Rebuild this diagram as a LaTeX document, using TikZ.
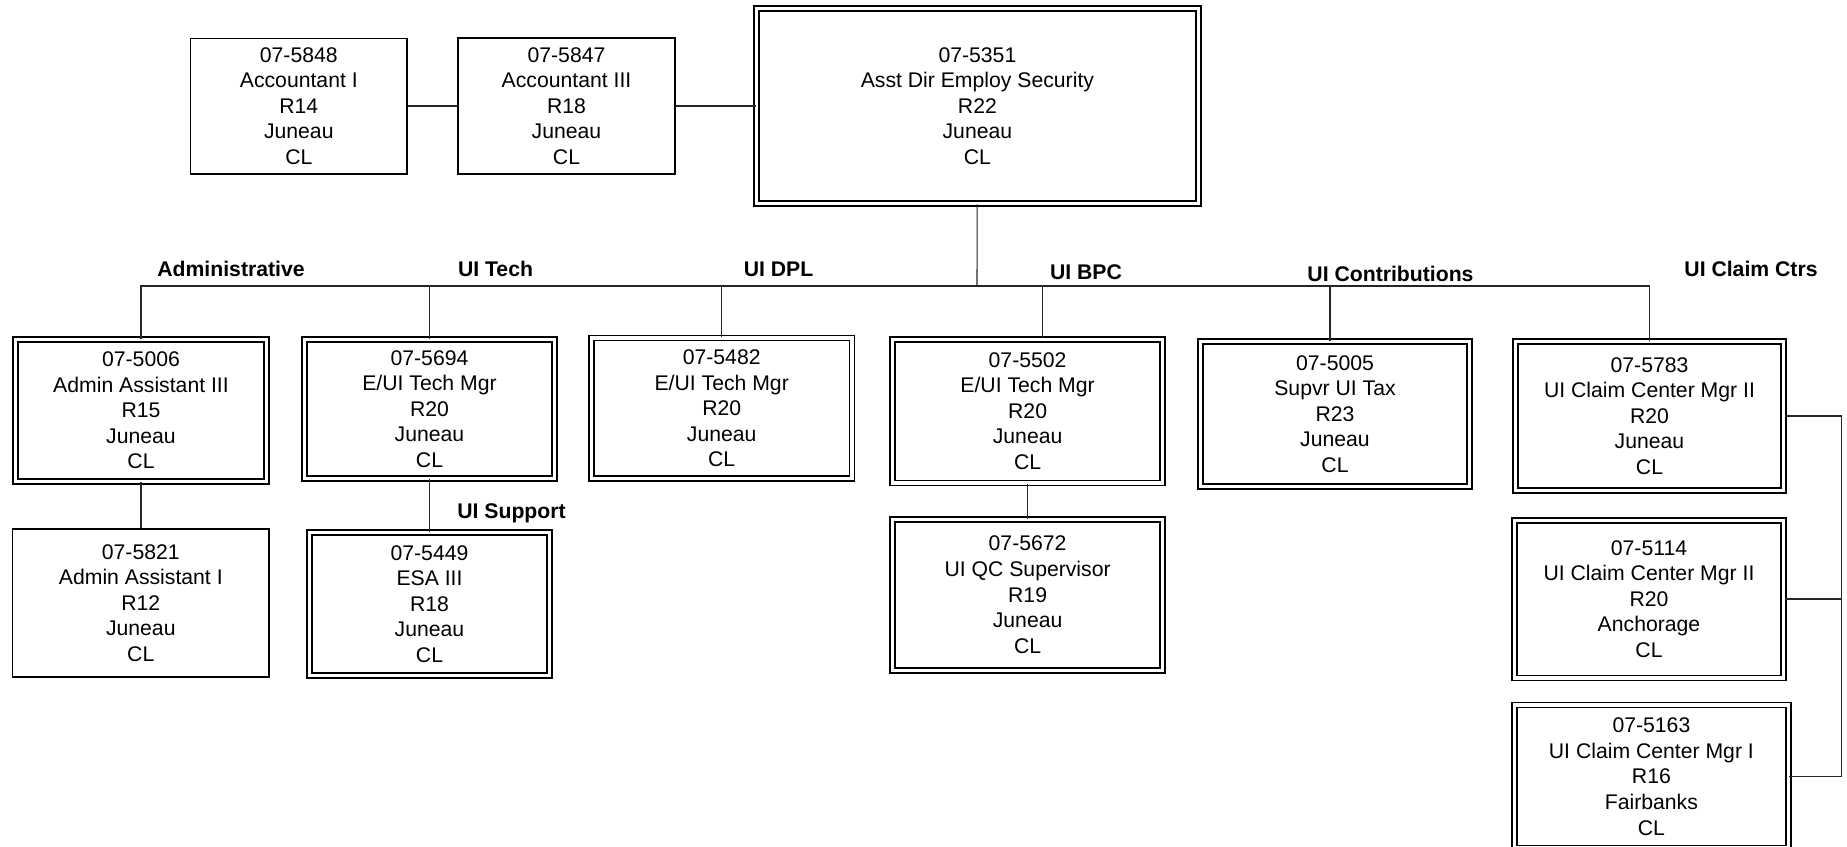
\documentclass[tikz,border=0pt]{standalone}
\usepackage{fontspec}
\setmainfont{Liberation Sans}
\begin{document}
\begin{tikzpicture}[x=0.5pt,y=-0.5pt,
  jobbox/.style={draw,line width=0.75pt,align=center,inner sep=0pt,font=\fontsize{10.6}{12.8}\selectfont},
  djobbox/.style={jobbox,double,line width=0.8pt,double distance=1.7pt},
  unit/.style={anchor=base,inner sep=0pt,font=\fontsize{10.6}{12.8}\selectfont\bfseries},
  link/.style={line width=0.55pt,black!85}]
\path[fill=white] (0,0) rectangle (1847,846);
\useasboundingbox (0,0) rectangle (1847,846);
\node[djobbox,minimum width=221pt,minimum height=97.5pt] (Dir) at (977.4,106){07-5351\\Asst Dir Employ Security\\R22\\Juneau\\CL};
\node[jobbox,minimum width=108.25pt,minimum height=67.75pt] (Acc1) at (298.8,106){07-5848\\Accountant I\\R14\\Juneau\\CL};
\node[jobbox,minimum width=108.5pt,minimum height=68pt] (Acc3) at (566.5,106){07-5847\\Accountant III\\R18\\Juneau\\CL};
\node[djobbox,minimum width=125.5pt,minimum height=71pt] (Adm3) at (141,410.3){07-5006\\Admin Assistant III\\R15\\Juneau\\CL};
\node[jobbox,minimum width=128.2pt,minimum height=74pt] (Adm1) at (140.8,603){07-5821\\Admin Assistant I\\R12\\Juneau\\CL};
\node[djobbox,minimum width=125pt,minimum height=69.5pt] (Tech) at (429.5,409){07-5694\\E/UI Tech Mgr\\R20\\Juneau\\CL};
\node[djobbox,minimum width=120pt,minimum height=71.5pt] (Esa) at (429.5,604){07-5449\\ESA III\\R18\\Juneau\\CL};
\node[djobbox,minimum width=130.35pt,minimum height=70.15pt] (Dpl) at (721.7,408.3){07-5482\\E/UI Tech Mgr\\R20\\Juneau\\CL};
\node[djobbox,minimum width=135.15pt,minimum height=71.8pt] (Bpc) at (1027.6,411){07-5502\\E/UI Tech Mgr\\R20\\Juneau\\CL};
\node[djobbox,minimum width=135pt,minimum height=75.5pt] (Qc) at (1027.6,594.8){07-5672\\UI QC Supervisor\\R19\\Juneau\\CL};
\node[djobbox,minimum width=134.75pt,minimum height=72.4pt] (Tax) at (1335,414){07-5005\\Supvr UI Tax\\R23\\Juneau\\CL};
\node[djobbox,minimum width=134.2pt,minimum height=74.5pt] (Ctr1) at (1649.5,416){07-5783\\UI Claim Center Mgr II\\R20\\Juneau\\CL};
\node[djobbox,minimum width=134.75pt,minimum height=78.8pt] (Ctr2) at (1649,599){07-5114\\UI Claim Center Mgr II\\R20\\Anchorage\\CL};
\node[djobbox,minimum width=136.85pt,minimum height=71.5pt] (Ctr3) at (1651.4,776.5){07-5163\\UI Claim Center Mgr I\\R16\\Fairbanks\\CL};
\node[unit] (LAdm) at (231,276){Administrative};
\node[unit] (LTech) at (495.5,276){UI Tech};
\node[unit] (LDpl) at (778.5,276.5){UI DPL};
\node[unit] (LBpc) at (1086,279){UI BPC};
\node[unit] (LTax) at (1390.5,281.7){UI Contributions};
\node[unit] (LCtr) at (1751,276){UI Claim Ctrs};
\node[unit] (LSup) at (511.5,518.3){UI Support};
\coordinate (Bus) at (977,286);
\coordinate (BusBpc) at (1042.6,286);
\coordinate (BusTax) at (1330,286);
\coordinate (Rail) at (1841.7,416);
\draw[link] (Acc1) -- (Acc3);
\draw[link] (Acc3) -- (Dir);
\draw[link] (Dir) -- (Bus);
\draw[link] (Bus) -| (Adm3);
\draw[link] (Bus) -| (Tech);
\draw[link] (Bus) -| (Dpl);
\draw[link] (Bus) -- (BusBpc) -- (BusBpc |- Bpc.north);
\draw[link] (Bus) -- (BusTax) -- (BusTax |- Tax.north);
\draw[link] (Bus) -| (Ctr1);
\draw[link] (Adm3.south) -- (Adm3.south |- Adm1.north);
\draw[link] (Tech) -- (Esa);
\draw[link] (Bpc) -- (Qc);
\draw[link] (Ctr1.east) -- (Rail) |- (Ctr3.east);
\draw[link] (Ctr2.east) -- (Ctr2.east -| Rail);
\end{tikzpicture}
\end{document}
